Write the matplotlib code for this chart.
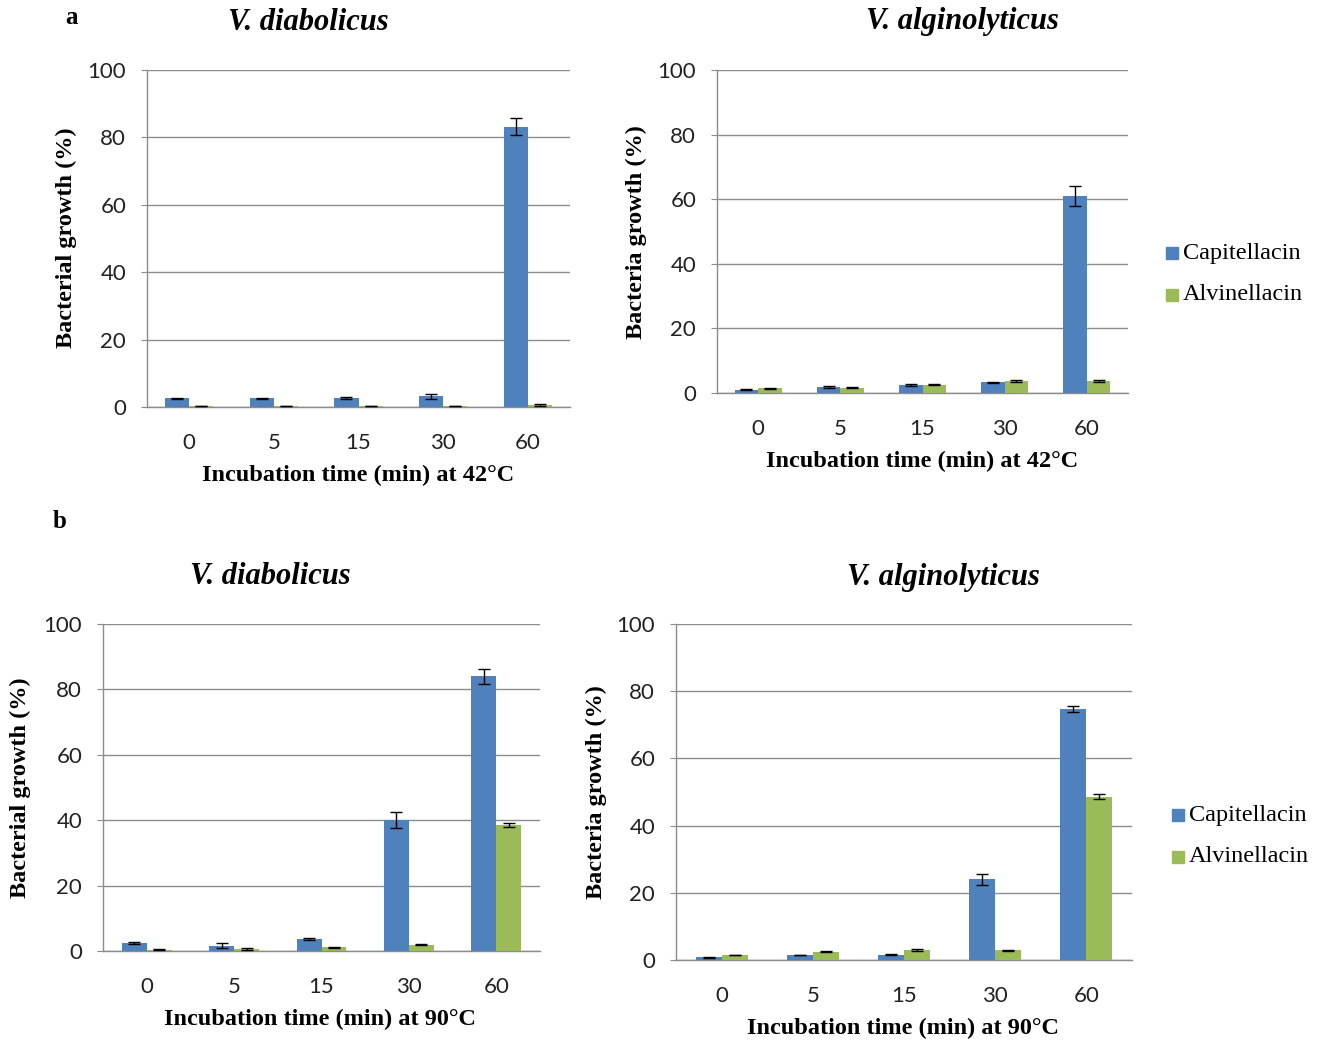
import numpy as np
import matplotlib
matplotlib.use("Agg")
import matplotlib.pyplot as plt

# ---- data ----
times = ["0", "5", "15", "30", "60"]
series_names = ["Capitellacin", "Alvinellacin"]

cap_42_diab = [2.6, 2.6, 2.7, 3.2, 83.2]
cap_42_diab_err = [0.2, 0.2, 0.3, 0.7, 2.6]
alv_42_diab = [0.3, 0.3, 0.3, 0.3, 0.6]
alv_42_diab_err = [0.1, 0.1, 0.1, 0.1, 0.2]

cap_42_alg = [1.0, 2.0, 2.5, 3.3, 61.0]
cap_42_alg_err = [0.2, 0.3, 0.3, 0.2, 3.0]
alv_42_alg = [1.4, 1.6, 2.6, 3.7, 3.7]
alv_42_alg_err = [0.2, 0.2, 0.2, 0.3, 0.3]

cap_90_diab = [2.4, 1.6, 3.7, 40.0, 84.0]
cap_90_diab_err = [0.2, 0.8, 0.2, 2.5, 2.2]
alv_90_diab = [0.4, 0.6, 1.1, 1.9, 38.5]
alv_90_diab_err = [0.1, 0.2, 0.1, 0.2, 0.7]

cap_90_alg = [0.8, 1.5, 1.6, 24.0, 74.7]
cap_90_alg_err = [0.2, 0.1, 0.2, 1.7, 1.0]
alv_90_alg = [1.5, 2.5, 3.0, 2.9, 48.6]
alv_90_alg_err = [0.1, 0.1, 0.2, 0.2, 0.7]

BLUE = "#4F81BD"
GREEN = "#9BBB59"
GRID = "#8C8C8C"

W, H = 1326, 1041
fig = plt.figure(figsize=(W / 100, H / 100), dpi=100)

SERIF = "Liberation Serif"
SANS = "Lato"


def px_axes(x0, y0, x1, y1):
    """Axes from pixel box (left, top, right, bottom)."""
    return fig.add_axes([x0 / W, 1 - y1 / H, (x1 - x0) / W, (y1 - y0) / H])


def ftext(x, y, s, **kw):
    fig.text(x / W, 1 - y / H, s, **kw)


def panel(box, cap, cap_err, alv, alv_err, title, title_xy, ylabel, ylabel_xy,
          xlabel, xlabel_xy, legend_xy=None):
    ax = px_axes(*box)
    x = np.arange(len(times))
    bw = 1 / 3.5
    ax.bar(x - bw / 2, cap, bw, color=BLUE, zorder=3, label=series_names[0])
    ax.bar(x + bw / 2, alv, bw, color=GREEN, zorder=3, label=series_names[1])
    ax.errorbar(x - bw / 2, cap, yerr=cap_err, fmt="none", ecolor="black",
                elinewidth=1.0, capsize=4, capthick=1.0, zorder=4)
    ax.errorbar(x + bw / 2, alv, yerr=alv_err, fmt="none", ecolor="black",
                elinewidth=1.0, capsize=4, capthick=1.0, zorder=4)
    ax.set_xlim(-0.5, len(times) - 0.5)
    ax.set_ylim(0, 100)
    ax.set_yticks(range(0, 101, 20))
    ax.set_xticks(x)
    ax.set_xticklabels(times)
    ax.grid(axis="y", color=GRID, lw=1.0, zorder=0)
    for s in ("top", "right"):
        ax.spines[s].set_visible(False)
    for s in ("left", "bottom"):
        ax.spines[s].set_color(GRID)
        ax.spines[s].set_linewidth(1.0)
    ax.tick_params(axis="y", length=4, color=GRID, labelsize=16, pad=11)
    ax.tick_params(axis="x", length=0, labelsize=16, pad=19)
    for lab in ax.get_xticklabels() + ax.get_yticklabels():
        lab.set_fontfamily(SANS)
        lab.set_color("#222222")
    ftext(*title_xy, title, family=SERIF, weight="bold", style="italic",
          fontsize=22, ha="center", va="center")
    ftext(*ylabel_xy, ylabel, family=SERIF, weight="bold", fontsize=17.5,
          ha="center", va="center", rotation=90)
    ftext(*xlabel_xy, xlabel, family=SERIF, weight="bold", fontsize=17.5,
          ha="center", va="center")
    if legend_xy is not None:
        lx, ly = legend_xy
        for i, (name, col) in enumerate(zip(series_names, (BLUE, GREEN))):
            yy = ly + i * 42
            fig.patches.append(plt.Rectangle(((lx - 6) / W, 1 - (yy + 6) / H),
                                             12 / W, 12 / H, color=col,
                                             transform=fig.transFigure))
            ftext(lx + 11, yy, name, family=SERIF, fontsize=17.5,
                  ha="left", va="center")
    return ax


panel((147, 70, 570, 407), cap_42_diab, cap_42_diab_err, alv_42_diab, alv_42_diab_err,
      "V. diabolicus", (308, 22), "Bacterial growth (%)", (66, 238),
      "Incubation time (min) at 42°C", (358, 475))
panel((717, 70, 1128, 393), cap_42_alg, cap_42_alg_err, alv_42_alg, alv_42_alg_err,
      "V. alginolyticus", (962, 22), "Bacteria growth (%)", (636, 232),
      "Incubation time (min) at 42°C", (922, 461), legend_xy=(1172, 253))
panel((103, 624, 540, 951), cap_90_diab, cap_90_diab_err, alv_90_diab, alv_90_diab_err,
      "V. diabolicus", (270, 577), "Bacterial growth (%)", (20, 788),
      "Incubation time (min) at 90°C", (320, 1019))
panel((676, 624, 1132, 960), cap_90_alg, cap_90_alg_err, alv_90_alg, alv_90_alg_err,
      "V. alginolyticus", (943, 577), "Bacteria growth (%)", (596, 792),
      "Incubation time (min) at 90°C", (903, 1028), legend_xy=(1178, 815))

ftext(72, 17, "a", family=SERIF, weight="bold", fontsize=18, ha="center", va="center")
ftext(60, 521, "b", family=SERIF, weight="bold", fontsize=18, ha="center", va="center")

fig.savefig("out.png", dpi=100, facecolor="white")
